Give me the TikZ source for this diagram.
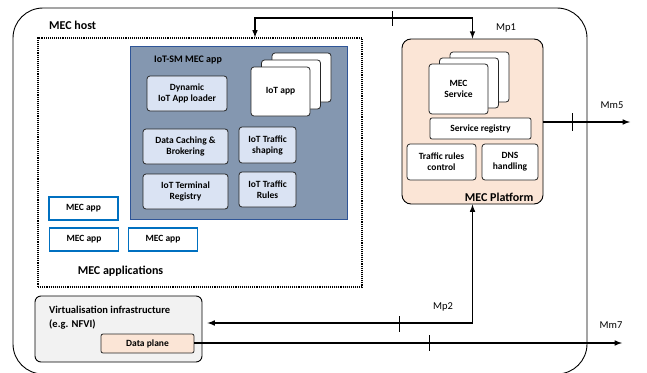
\documentclass[tikz,border=0pt]{standalone}
\usepackage{fontspec}
\setmainfont{Carlito}
\usetikzlibrary{positioning, arrows}
\definecolor{smfill}{HTML}{8497B0}
\definecolor{smdraw}{HTML}{2F5597}
\definecolor{lightblue}{HTML}{DAE3F3}
\definecolor{peach}{HTML}{FBE5D6}
\definecolor{lightgray}{HTML}{F2F2F2}
\definecolor{appblue}{HTML}{0070C0}
\tikzset{
x=1pt, y=-1pt, % one unit per pixel, y going down
>=latex, % small filled arrow heads
host/.style={draw, line width=0.9pt, rounded corners=30pt}, % the MEC host frame
apps/.style={draw, densely dotted, line width=1.1pt}, % the MEC applications area
box/.style={draw=black!85, line width=0.8pt, rounded corners=3pt, fill=lightblue, inner sep=0pt, align=center, font=\bfseries\fontsize{9.5}{11}\selectfont},
whitebox/.style={box, fill=white}, % boxes inside the platform and the stacks
appbox/.style={draw=appblue, line width=1.2pt, fill=white, inner sep=0pt, font=\bfseries\fontsize{9.5}{11}\selectfont},
title/.style={inner sep=0pt, font=\bfseries\fontsize{12}{14}\selectfont},
iface/.style={line width=1.5pt}, % reference points
tick/.style={line width=0.8pt},
ref/.style={inner sep=0pt, font=\fontsize{10.5}{12}\selectfont},
}
\begin{document}
\begin{tikzpicture}
\useasboundingbox (0,0) rectangle (647,372);
% host and the applications area
\node[host, minimum width=574pt, minimum height=366pt] (host) at (300,191) {};
\node[title, anchor=west] (hostlbl) at (49,25) {MEC host};
\node[apps, minimum width=324pt, minimum height=249pt] (apps) at (200,162.5) {};
\node[title] (appslbl) at (120.5,271) {MEC applications};

% IoT-SM MEC app
\node[draw=smdraw, line width=0.9pt, fill=smfill, minimum width=217pt, minimum height=173pt] (iotsm) at (238.5,132.5) {};
\node[title, font=\bfseries\fontsize{10}{12}\selectfont] (iotsmlbl) at (188,60) {IoT-SM MEC app};
\node[box, minimum width=80pt, minimum height=35pt] (loader) at (187,93.5) {Dynamic\\IoT App loader};
\node[whitebox, minimum width=59pt, minimum height=49pt] (iotapp3) at (301.5,77.5) {};
\node[whitebox, minimum width=59pt, minimum height=49pt] (iotapp2) at (291,84.5) {};
\node[whitebox, minimum width=59pt, minimum height=49pt] (iotapp) at (280.5,91.5) {IoT app};
\node[box, minimum width=85pt, minimum height=35pt] (caching) at (185.5,146.5) {Data Caching \&\\Brokering};
\node[box, minimum width=57pt, minimum height=36pt] (shaping) at (267.5,145) {IoT Traffic\\shaping};
\node[box, minimum width=85pt, minimum height=35pt] (terminal) at (185.5,191.5) {IoT Terminal\\Registry};
\node[box, minimum width=57pt, minimum height=35pt] (rules) at (267.5,189.5) {IoT Traffic\\Rules};

% other MEC apps
\node[appbox, minimum width=69pt, minimum height=23pt] (app1) at (83.5,208.5) {MEC app};
\node[appbox, minimum width=69pt, minimum height=23pt] (app2) at (84,239.5) {MEC app};
\node[appbox, minimum width=69pt, minimum height=23pt] (app3) at (163,239.5) {MEC app};

% MEC platform
\node[draw, line width=0.9pt, rounded corners=9pt, fill=peach, minimum width=141pt, minimum height=165pt] (platform) at (472.5,121.5) {};
\node[title, anchor=south east] (platlbl) at ([xshift=-10pt,yshift=3pt]platform.south east) {MEC Platform};
\node[whitebox, minimum width=59pt, minimum height=50pt] (svc3) at (479.5,77) {};
\node[whitebox, minimum width=59pt, minimum height=50pt] (svc2) at (469,83) {};
\node[whitebox, minimum width=59pt, minimum height=50pt] (svc) at (458.5,89) {MEC\\Service};
\node[whitebox, rounded corners=2pt, minimum width=101pt, minimum height=21pt] (registry) at (480.5,128.5) {Service registry};
\node[whitebox, minimum width=69pt, minimum height=36pt] (trc) at (441.5,162) {Traffic rules\\control};
\node[whitebox, minimum width=56pt, minimum height=36pt] (dns) at (510,162) {DNS\\handling};

% virtualisation infrastructure
\node[draw, line width=0.9pt, rounded corners=6pt, fill=lightgray, minimum width=167pt, minimum height=66pt] (virt) at (118.5,329) {};
\node[title, font=\bfseries\fontsize{10.5}{14}\selectfont, anchor=north west, align=left] (virtlbl) at (49,306) {Virtualisation infrastructure\\(e.g. NFVI)};
\node[box, fill=peach, rounded corners=2pt, minimum width=93pt, minimum height=19pt] (dplane) at (147.5,343.5) {Data plane};

% reference points
\coordinate (mp1) at (255,18);
\coordinate (mp2) at (472.5,323);
\coordinate (mm5) at (630,122);
\coordinate (mm7) at (622,343);
\draw[iface, <->] (apps.north -| mp1) -- (mp1) -| (platform.north);
\draw[iface, <->] (platform.south) -- (mp2) -- ([xshift=5pt]virt.east |- mp2);
\draw[iface, ->] (platform.east |- mm5) -- (mm5);
\draw[iface, ->] (dplane.east |- mm7) -- (mm7);
\draw[tick] (392,11) -- (392,26);
\draw[tick] (572,113) -- (572,131);
\draw[tick] (399,316) -- (399,332);
\draw[tick] (429,335) -- (429,351);
\node[ref] (mp1lbl) at (506,28) {Mp1};
\node[ref] (mm5lbl) at (612,105) {Mm5};
\node[ref] (mp2lbl) at (443,307) {Mp2};
\node[ref] (mm7lbl) at (611,325) {Mm7};
\end{tikzpicture}
\end{document}
